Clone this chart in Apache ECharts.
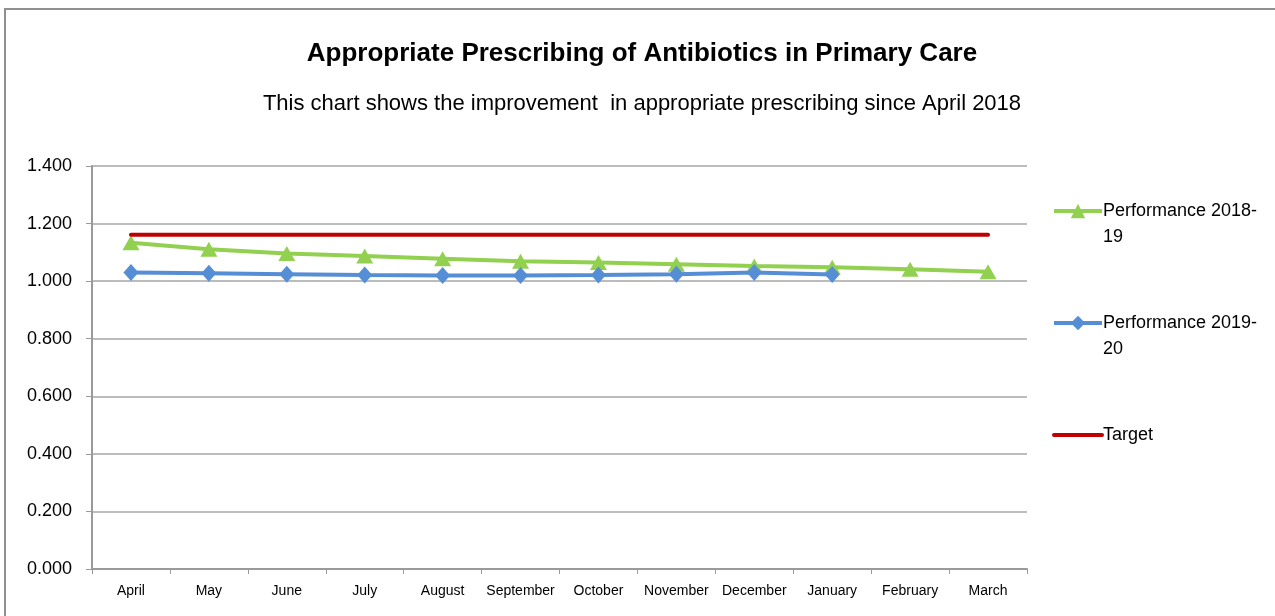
<!DOCTYPE html>
<html>
<head>
<meta charset="utf-8">
<title>Appropriate Prescribing of Antibiotics in Primary Care</title>
<script src="https://cdn.jsdelivr.net/npm/echarts@6/dist/echarts.min.js"></script>
<style>
  html, body { margin: 0; padding: 0; background: #fff; }
  #chart { width: 1275px; height: 616px; }
</style>
</head>
<body>
<div id="chart"></div>
<script>
  // categories / tick labels
  var months = ['April', 'May', 'June', 'July', 'August', 'September',
                'October', 'November', 'December', 'January', 'February', 'March'];
  var yTicks = [0, 0.2, 0.4, 0.6, 0.8, 1.0, 1.2, 1.4];

  // series values
  var perf1819 = [1.133, 1.111, 1.096, 1.087, 1.078, 1.069, 1.065, 1.059, 1.053, 1.048, 1.041, 1.033];
  var perf1920 = [1.030, 1.027, 1.024, 1.021, 1.020, 1.020, 1.021, 1.024, 1.030, 1.023, null, null];
  var target   = [1.161, 1.161, 1.161, 1.161, 1.161, 1.161, 1.161, 1.161, 1.161, 1.161, 1.161, 1.161];

  var legendText = {
    'Performance 2018-19': '\nPerformance 2018-\n19',
    'Performance 2019-20': '\nPerformance 2019-\n20',
    'Target': '\nTarget\n'
  };

  var font = 'Liberation Sans, Arial, sans-serif';

  var options = {
    backgroundColor: '#fff',
    textStyle: { fontFamily: font },
    graphic: [{
      type: 'rect',
      shape: { x: 5, y: 9, width: 1400, height: 800 },
      style: { fill: 'none', stroke: '#8f8f8f', lineWidth: 2 },
      silent: true
    }],
    title: [{
      text: 'Appropriate Prescribing of Antibiotics in Primary Care',
      left: 637, top: 36, textAlign: 'center',
      textStyle: { fontSize: 26, fontWeight: 'bold', color: '#000', fontFamily: font }
    }, {
      text: 'This chart shows the improvement  in appropriate prescribing since April 2018',
      left: 637, top: 88, textAlign: 'center',
      textStyle: { fontSize: 22, fontWeight: 'normal', color: '#000', fontFamily: font }
    }],
    legend: {
      orient: 'vertical',
      left: 1052, top: 172,
      itemGap: 34,
      itemWidth: 48, itemHeight: 18,
      padding: 0,
      lineStyle: { width: 4 },
      data: [
        'Performance 2018-19',
        'Performance 2019-20',
        { name: 'Target', itemStyle: { opacity: 0 } }
      ],
      formatter: function (name) { return legendText[name]; },
      textStyle: { fontSize: 18, lineHeight: 26, color: '#000', padding: [0, 0, 0, -4] }
    },
    grid: { left: 92, right: 248, top: 166, bottom: 47 },
    xAxis: {
      type: 'category',
      data: months,
      boundaryGap: true,
      axisLine: { lineStyle: { color: '#9a9a9a', width: 2 } },
      axisTick: { show: true, length: 5, lineStyle: { color: '#9a9a9a', width: 1 } },
      axisLabel: { fontSize: 14, color: '#000', margin: 15, interval: 0 }
    },
    yAxis: {
      type: 'value',
      min: 0, max: yTicks[yTicks.length - 1], interval: 0.2,
      axisLine: { show: true, lineStyle: { color: '#9a9a9a', width: 2 } },
      axisTick: { show: true, length: 6, lineStyle: { color: '#9a9a9a', width: 1 } },
      axisLabel: {
        fontSize: 18, color: '#000', margin: 20,
        formatter: function (v) { return v.toFixed(3); }
      },
      splitLine: { lineStyle: { color: '#a6a6a6', width: 1.5 } }
    },
    series: [{
      name: 'Performance 2018-19',
      type: 'line',
      data: perf1819,
      color: '#92D050',
      symbol: 'triangle',
      symbolSize: [17, 15],
      lineStyle: { width: 4 },
      itemStyle: { color: '#92D050' },
      z: 2
    }, {
      name: 'Performance 2019-20',
      type: 'line',
      data: perf1920,
      color: '#558ED5',
      symbol: 'diamond',
      symbolSize: [15, 17],
      lineStyle: { width: 4 },
      itemStyle: { color: '#558ED5' },
      z: 3
    }, {
      name: 'Target',
      type: 'line',
      data: target,
      color: '#C00000',
      symbol: 'none',
      lineStyle: { width: 4, cap: 'round' },
      z: 4
    }],
    animation: false
  };

  var mychart = echarts.init(document.getElementById('chart'));
  mychart.setOption(options);
</script>
</body>
</html>
